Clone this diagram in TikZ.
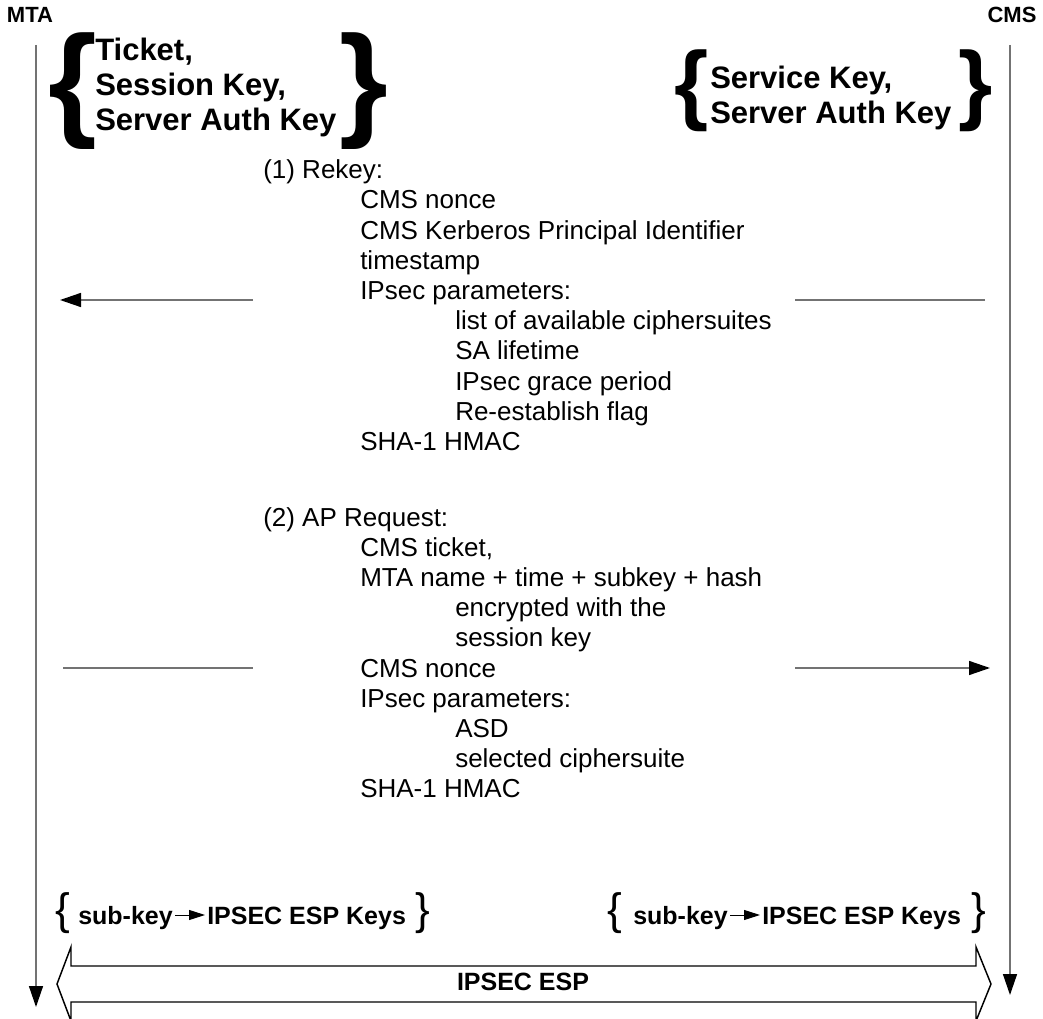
\documentclass[tikz,border=0pt]{standalone}
\usepackage{fontspec}
\setmainfont{Liberation Sans}
\usetikzlibrary{arrows.meta}
\begin{document}
\begin{tikzpicture}[x=0.75pt,y=-0.75pt,
  life/.style={draw=black!55, line width=1.1pt},
  msg/.style={draw=black!55, line width=1.1pt},
  tipb/.style={-{Triangle[color=black,length=15.75pt,width=10.5pt]}},
  body/.style={font=\fontsize{19.5}{22}\selectfont, anchor=base west, inner sep=0pt},
  bodyb/.style={font=\bfseries\fontsize{18.75}{22}\selectfont, anchor=base west, inner sep=0pt},
  hdr/.style={font=\bfseries\fontsize{16.5}{18}\selectfont, inner sep=0pt},
  keys/.style={font=\bfseries\fontsize{23.25}{26}\selectfont, anchor=base west, inner sep=0pt},
  bigbrace/.style={font=\bfseries\fontsize{94}{94}\selectfont, inner sep=0pt},
  midbrace/.style={font=\bfseries\fontsize{66}{66}\selectfont, inner sep=0pt},
  smallbrace/.style={font=\fontsize{33}{33}\selectfont, inner sep=0pt},
  esp/.style={draw=black, line width=1.1pt, line join=miter}
]
\useasboundingbox (0,0) rectangle (1043,1019);

% lifelines
\node[hdr] (mta) at (30,15) {MTA};
\node[hdr] (cms) at (1012,15) {CMS};
\coordinate (mtaTop) at (36,45);
\coordinate (mtaBot) at (36,1007);
\coordinate (cmsTop) at (1010,45);
\coordinate (cmsBot) at (1010,995);
\draw[life,-{Triangle[color=black,length=15.75pt,width=10.5pt]}] (mtaTop) -- (mtaBot);
\draw[life,-{Triangle[color=black,length=15.75pt,width=10.5pt]}] (cmsTop) -- (cmsBot);

% top key blocks
\node[bigbrace] (lb1) at (73,91) {\{};
\node[bigbrace] (rb1) at (364,91) {\}};
\node[keys] (k1) at (95,61) {Ticket,};
\node[keys] (k2) at (95,96) {Session Key,};
\node[keys] (k3) at (95,131) {Server Auth Key};

\node[midbrace] (lb2) at (692,91) {\{};
\node[midbrace] (rb2) at (976,91) {\}};
\node[keys] (k4) at (710,89) {Service Key,};
\node[keys] (k5) at (710,124) {Server Auth Key};

% message 1
\node[body] (r1) at (263,179) {(1) Rekey:};
\node[body] (r2) at (360,209) {CMS nonce};
\node[body] (r3) at (360,239.5) {CMS Kerberos Principal Identifier};
\node[body] (r4) at (360,270) {timestamp};
\node[body] (r5) at (360,300) {IPsec parameters:};
\node[body] (r6) at (455,330) {list of available ciphersuites};
\node[body] (r7) at (455,360) {SA lifetime};
\node[body] (r8) at (455,390.5) {IPsec grace period};
\node[body] (r9) at (455,421) {Re-establish flag};
\node[body] (r10) at (360,451) {SHA-1 HMAC};

\coordinate (a1in) at (253,300);
\coordinate (a1tip) at (60,300);
\coordinate (a1out) at (985,300);
\coordinate (a1gap) at (795,300);
\draw[msg,tipb] (a1in) -- (a1tip);
\draw[msg] (a1out) -- (a1gap);

% message 2
\node[body] (q1) at (263,527) {(2) AP Request:};
\node[body] (q2) at (360,557) {CMS ticket,};
\node[body] (q3) at (360,587) {MTA name + time + subkey + hash};
\node[body] (q4) at (455,617) {encrypted with the};
\node[body] (q5) at (455,647) {session key};
\node[body] (q6) at (360,677) {CMS nonce};
\node[body] (q7) at (360,707) {IPsec parameters:};
\node[body] (q8) at (455,737) {ASD};
\node[body] (q9) at (455,767) {selected ciphersuite};
\node[body] (q10) at (360,797) {SHA-1 HMAC};

\coordinate (a2start) at (63,668);
\coordinate (a2in) at (253,668);
\coordinate (a2gap) at (795,668);
\coordinate (a2tip) at (990,668);
\draw[msg] (a2start) -- (a2in);
\draw[msg,tipb] (a2gap) -- (a2tip);

% sub-key rows
\node[smallbrace] (lb3) at (63,913) {\{};
\node[bodyb] (sk1) at (78,924) {sub-key};
\node[bodyb] (ik1) at (207,924) {IPSEC ESP Keys};
\node[smallbrace] (rb3) at (423,913) {\}};
\draw[line width=0.75pt,-{Triangle[length=12pt,width=7.5pt]}] ([shift={(2,-9)}]sk1.base east) -- ([shift={(-2,-9)}]ik1.base west);

\node[smallbrace] (lb4) at (615,913) {\{};
\node[bodyb] (sk2) at (633,924) {sub-key};
\node[bodyb] (ik2) at (762,924) {IPSEC ESP Keys};
\node[smallbrace] (rb4) at (979,913) {\}};
\draw[line width=0.75pt,-{Triangle[length=12pt,width=7.5pt]}] ([shift={(2,-9)}]sk2.base east) -- ([shift={(-2,-9)}]ik2.base west);

% IPSEC ESP double arrow
\draw[esp] (57,984) -- (71,947) -- (71,966) -- (976,966) -- (976,947) -- (991,984)
  -- (976,1021) -- (976,1002) -- (71,1002) -- (71,1021) -- cycle;
\node[font=\bfseries\fontsize{18.75}{22}\selectfont, inner sep=0pt] (espl) at (523,982) {IPSEC ESP};
\end{tikzpicture}
\end{document}
